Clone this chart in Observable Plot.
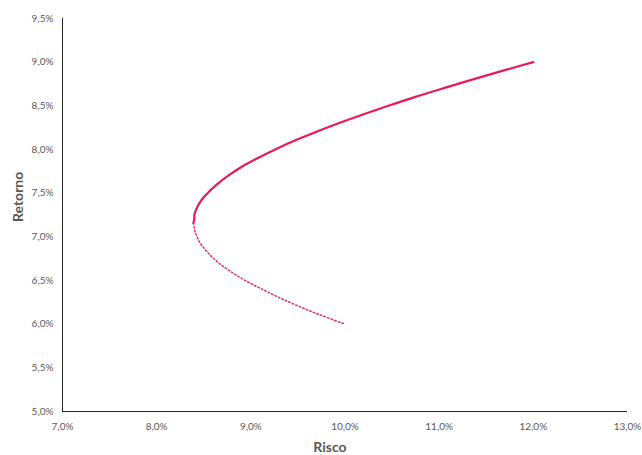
<!DOCTYPE html>
<html>
<head>
<meta charset="utf-8">
<script src="https://cdn.jsdelivr.net/npm/d3@7"></script>
<script src="https://cdn.jsdelivr.net/npm/@observablehq/plot@0.6"></script>
<style>
  html, body { margin: 0; padding: 0; background: #fff; }
  #chart svg { display: block; }
</style>
</head>
<body>
<div id="chart"></div>
<script>
// Efficient part of the frontier (solid): risk (%) and return (%)
const efficientRisk   = [8.39, 8.40, 8.40, 8.415, 8.436, 8.463, 8.497, 8.54, 8.64, 8.76, 8.90, 9.07, 9.26, 9.46, 9.69, 9.93, 10.19, 10.46, 10.74, 11.04, 11.35, 11.67, 12.00];
const efficientReturn = [7.16, 7.20, 7.25, 7.30, 7.35, 7.40, 7.45, 7.50, 7.60, 7.70, 7.80, 7.90, 8.00, 8.10, 8.20, 8.30, 8.40, 8.50, 8.60, 8.70, 8.80, 8.90, 9.00];
// Inefficient part (dotted)
const inefficientRisk   = [8.39, 8.40, 8.41, 8.43, 8.45, 8.48, 8.56, 8.66, 8.79, 8.94, 9.12, 9.31, 9.52, 9.75, 10.00];
const inefficientReturn = [7.16, 7.10, 7.05, 7.00, 6.95, 6.90, 6.80, 6.70, 6.60, 6.50, 6.40, 6.30, 6.20, 6.10, 6.00];
// Axis ticks (%)
const xTicks = [7, 8, 9, 10, 11, 12, 13];
const yTicks = [5, 5.5, 6, 6.5, 7, 7.5, 8, 8.5, 9, 9.5];

const efficient = efficientRisk.map((r, i) => ({risk: r / 100, ret: efficientReturn[i] / 100}));
const inefficient = inefficientRisk.map((r, i) => ({risk: r / 100, ret: inefficientReturn[i] / 100}));

const ptBR = d3.formatLocale({decimal: ",", thousands: ".", grouping: [3], currency: ["R$", ""]});
const pct = ptBR.format(".1%");

const font = "Lato, 'Open Sans', sans-serif";

const chart = Plot.plot({
  width: 642,
  height: 455,
  marginLeft: 62,
  marginRight: 15,
  marginTop: 18,
  marginBottom: 44,
  style: {fontFamily: font, fontSize: "10px", color: "#595959", background: "#fff"},
  x: {domain: [0.07, 0.13]},
  y: {domain: [0.05, 0.095]},
  marks: [
    Plot.axisX(xTicks.map(d => d / 100), {tickSize: 0, tickPadding: 11, tickFormat: pct, label: null, fill: "#595959"}),
    Plot.axisY(yTicks.map(d => d / 100), {tickSize: 0, tickPadding: 9, tickFormat: pct, label: null, fill: "#595959"}),
    Plot.ruleX([0.07], {stroke: "#262626", strokeWidth: 1}),
    Plot.ruleY([0.05], {stroke: "#262626", strokeWidth: 1}),
    Plot.line(inefficient, {x: "risk", y: "ret", stroke: "#d43c6e", strokeWidth: 1.6, strokeDasharray: "1.4 2.4", curve: "catmull-rom"}),
    Plot.line(efficient, {x: "risk", y: "ret", stroke: "#e8185f", strokeWidth: 2.2, curve: "catmull-rom"}),
    Plot.text(["Risco"], {frameAnchor: "bottom", dy: 40, dx: -15, fontSize: 14, fontWeight: "bold", fill: "#595959"}),
    Plot.text(["Retorno"], {frameAnchor: "left", dx: -44, dy: 7, rotate: -90, fontSize: 14, fontWeight: "bold", fill: "#595959"})
  ]
});
document.getElementById("chart").append(chart);
</script>
</body>
</html>
